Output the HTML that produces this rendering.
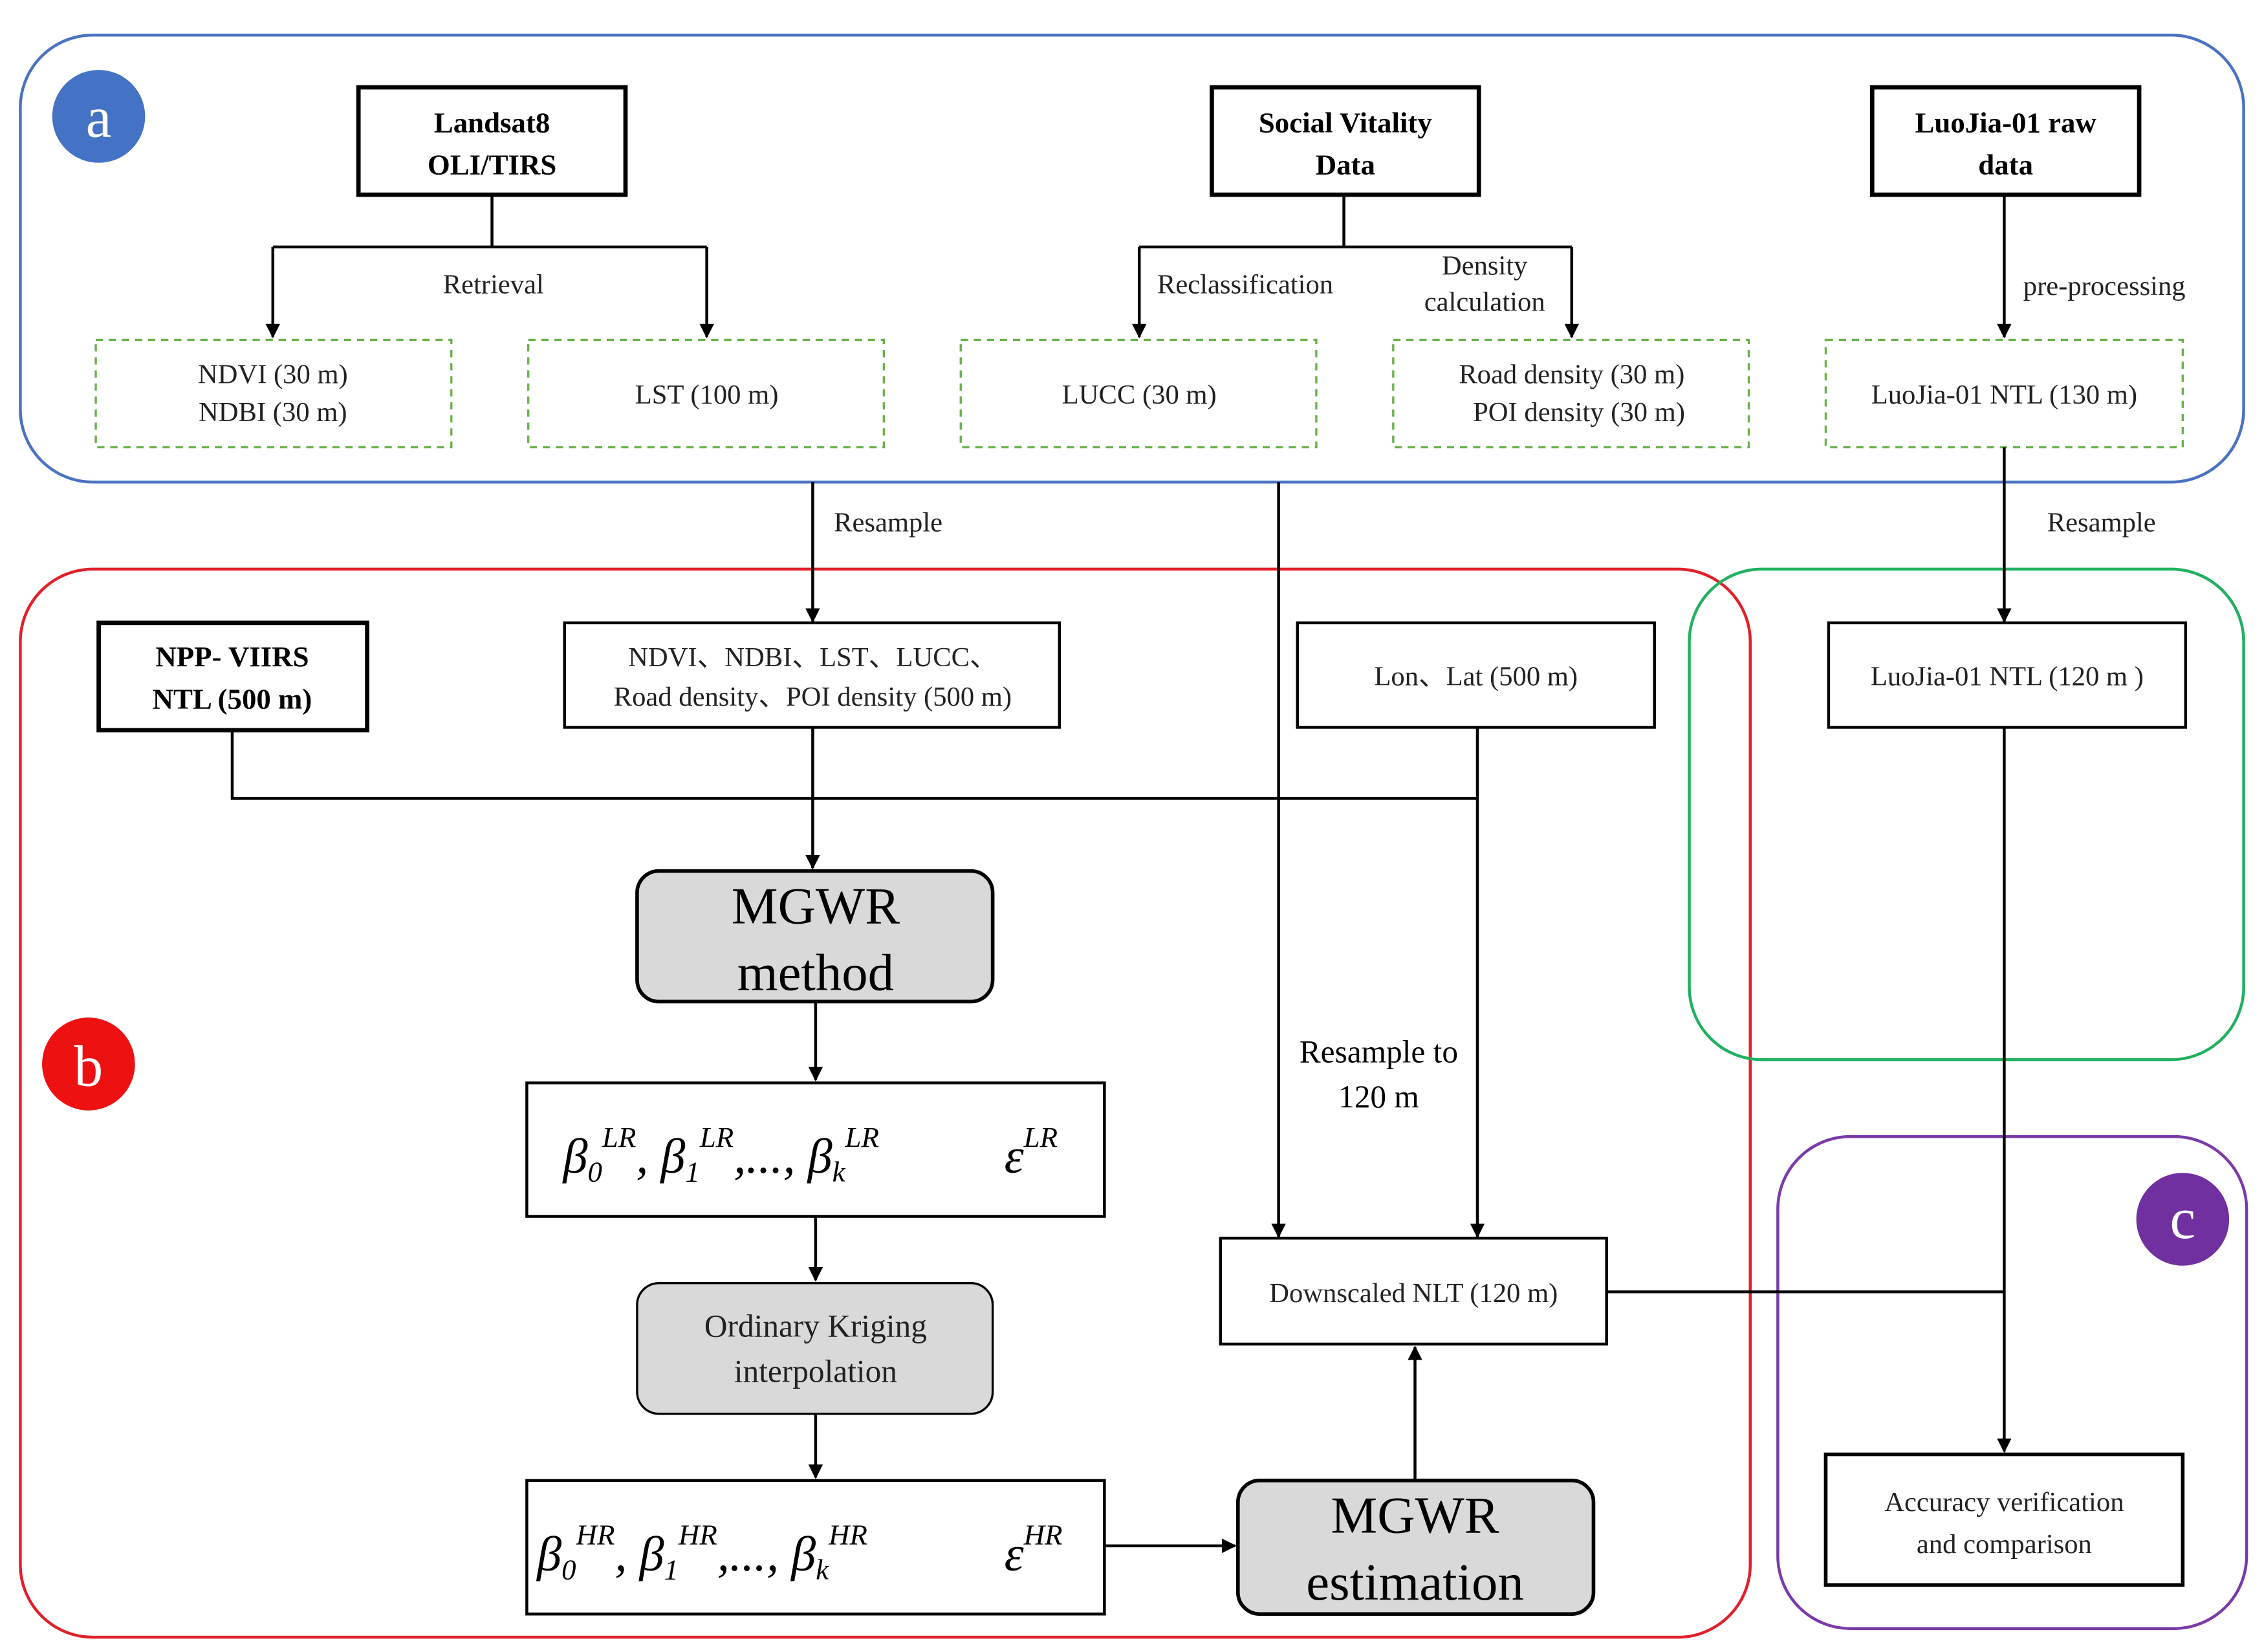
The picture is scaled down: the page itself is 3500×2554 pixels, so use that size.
<!DOCTYPE html>
<html><head><meta charset="utf-8"><style>html,body{margin:0;padding:0;background:#fff}svg{display:block}</style></head><body>
<svg width="3500" height="2554" viewBox="0 0 1560 1138" xmlns="http://www.w3.org/2000/svg" font-family="'Liberation Serif', serif">
<defs><marker id="ar" markerWidth="10" markerHeight="10" refX="9" refY="5" orient="auto" markerUnits="userSpaceOnUse"><path d="M0,0 L10,5 L0,10 z" fill="#000"/></marker></defs>
<rect width="1560" height="1138" fill="#fff"/>
<!-- group boxes -->
<rect x="14" y="24" width="1532" height="308" rx="50" fill="none" stroke="#4a72c0" stroke-width="2"/>
<rect x="14" y="392" width="1192" height="736" rx="50" fill="none" stroke="#e0202a" stroke-width="2"/>
<rect x="1164" y="392" width="382" height="338" rx="50" fill="none" stroke="#20b060" stroke-width="2"/>
<rect x="1225" y="783" width="323" height="339" rx="50" fill="none" stroke="#7a3aa8" stroke-width="2"/>
<circle cx="68" cy="80" r="32" fill="#4472c4"/><text x="68" y="94" font-size="40" fill="#fff" text-anchor="middle">a</text>
<circle cx="61" cy="733" r="32" fill="#ee1111"/><text x="61" y="748" font-size="40" fill="#fff" text-anchor="middle">b</text>
<circle cx="1504" cy="840" r="32" fill="#7030a0"/><text x="1504" y="853" font-size="40" fill="#fff" text-anchor="middle">c</text>
<g fill="#fff" stroke="#000" stroke-width="3">
<rect x="247" y="60" width="184" height="74"/><rect x="835" y="60" width="184" height="74"/><rect x="1290" y="60" width="184" height="74"/>
<rect x="68" y="429" width="185" height="74"/>
</g>
<g font-size="20" font-weight="bold" text-anchor="middle">
<text x="339" y="91">Landsat8</text><text x="339" y="120">OLI/TIRS</text>
<text x="927" y="91">Social Vitality</text><text x="927" y="120">Data</text>
<text x="1382" y="91">LuoJia-01 raw</text><text x="1382" y="120">data</text>
<text x="160" y="459">NPP- VIIRS</text><text x="160" y="488">NTL (500 m)</text>
</g>
<g fill="none" stroke="#6ab04c" stroke-width="1.5" stroke-dasharray="5,4">
<rect x="66" y="234" width="245" height="74"/><rect x="364" y="234" width="245" height="74"/><rect x="662" y="234" width="245" height="74"/><rect x="960" y="234" width="245" height="74"/><rect x="1258" y="234" width="246" height="74"/>
</g>
<g font-size="19" text-anchor="middle" fill="#222">
<text x="188" y="264">NDVI (30 m)</text><text x="188" y="290">NDBI (30 m)</text>
<text x="487" y="278">LST (100 m)</text>
<text x="785" y="278">LUCC (30 m)</text>
<text x="1083" y="264">Road density (30 m)</text><text x="1088" y="290">POI density (30 m)</text>
<text x="1381" y="278">LuoJia-01 NTL (130 m)</text>
<text x="340" y="202">Retrieval</text>
<text x="858" y="202">Reclassification</text>
<text x="1023" y="189">Density</text><text x="1023" y="214">calculation</text>
<text x="1450" y="203">pre-processing</text>
<text x="612" y="366">Resample</text>
<text x="1448" y="366">Resample</text>
</g>
<g fill="none" stroke="#000" stroke-width="2">
<path d="M339,134V170M188,170H487"/><path d="M188,170V232" marker-end="url(#ar)"/><path d="M487,170V232" marker-end="url(#ar)"/>
<path d="M926,134V170M785,170H1083"/><path d="M785,170V232" marker-end="url(#ar)"/><path d="M1083,170V232" marker-end="url(#ar)"/>
<path d="M1381,134V232" marker-end="url(#ar)"/>
<path d="M560,332V428" marker-end="url(#ar)"/>
<path d="M881,332V852" marker-end="url(#ar)"/>
<path d="M1381,308V428" marker-end="url(#ar)"/>
<path d="M160,503V550H1018"/><path d="M560,501V598" marker-end="url(#ar)"/>
<path d="M1018,501V852" marker-end="url(#ar)"/>
<path d="M562,690V744" marker-end="url(#ar)"/>
<path d="M562,838V882" marker-end="url(#ar)"/>
<path d="M562,974V1018" marker-end="url(#ar)"/>
<path d="M761,1065H851" marker-end="url(#ar)"/>
<path d="M975,1020V928" marker-end="url(#ar)"/>
<path d="M1107,890H1381"/>
<path d="M1381,501V1000" marker-end="url(#ar)"/>
</g>
<g fill="#fff" stroke="#000" stroke-width="2">
<rect x="389" y="429" width="341" height="72"/><rect x="894" y="429" width="246" height="72"/><rect x="1260" y="429" width="246" height="72"/>
<rect x="363" y="746" width="398" height="92"/><rect x="363" y="1020" width="398" height="92"/>
<rect x="841" y="853" width="266" height="73"/>
<rect x="1258" y="1002" width="246" height="90" stroke-width="2.5"/>
</g>
<g fill="#d9d9d9" stroke="#000" stroke-width="2.5">
<rect x="439" y="600" width="245" height="90" rx="15"/>
<rect x="439" y="884" width="245" height="90" rx="15" stroke-width="1.5"/>
<rect x="853" y="1020" width="245" height="92" rx="15"/>
</g>
<g font-size="19" text-anchor="middle" fill="#222">
<text x="560" y="459">NDVI、NDBI、LST、LUCC、</text><text x="560" y="486">Road density、POI density (500 m)</text>
<text x="1017" y="472">Lon、Lat (500 m)</text>
<text x="1383" y="472">LuoJia-01 NTL (120 m )</text>
<text x="974" y="897">Downscaled NLT (120 m)</text>
<text x="1381" y="1041">Accuracy verification</text><text x="1381" y="1070">and comparison</text>
<text x="562" y="921" font-size="22">Ordinary Kriging</text><text x="562" y="952" font-size="22">interpolation</text>
</g>
<g font-size="36" text-anchor="middle">
<text x="562" y="636">MGWR</text><text x="562" y="682">method</text>
<text x="975" y="1056">MGWR</text><text x="975" y="1102">estimation</text>
</g>
<g font-size="22" text-anchor="middle"><text x="950" y="732">Resample to</text><text x="950" y="763">120 m</text></g>
<g font-size="34" font-style="italic">
<text x="388" y="808">β<tspan font-size="20" dy="6">0</tspan><tspan font-size="20" dy="-24">LR</tspan><tspan dy="18">, β</tspan><tspan font-size="20" dy="6">1</tspan><tspan font-size="20" dy="-24">LR</tspan><tspan dy="18">,..., β</tspan><tspan font-size="20" dy="6">k</tspan><tspan font-size="20" dy="-24">LR</tspan></text>
<text x="692" y="808">ε<tspan font-size="20" dy="-18">LR</tspan></text>
<text x="370" y="1082">β<tspan font-size="20" dy="6">0</tspan><tspan font-size="20" dy="-24">HR</tspan><tspan dy="18">, β</tspan><tspan font-size="20" dy="6">1</tspan><tspan font-size="20" dy="-24">HR</tspan><tspan dy="18">,..., β</tspan><tspan font-size="20" dy="6">k</tspan><tspan font-size="20" dy="-24">HR</tspan></text>
<text x="692" y="1082">ε<tspan font-size="20" dy="-18">HR</tspan></text>
</g>
</svg>
</body></html>
